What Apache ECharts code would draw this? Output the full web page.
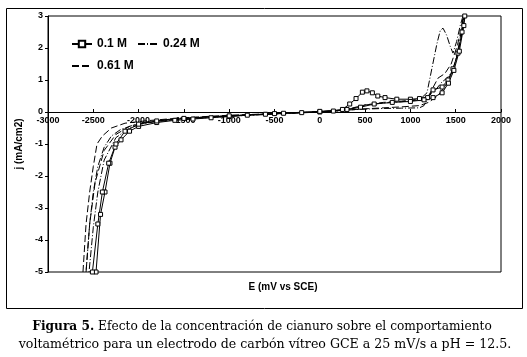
<!DOCTYPE html>
<html>
  <head>
    <meta charset="UTF-8">
    <title>Voltametría cianuro</title>
    <script src="https://cdn.jsdelivr.net/npm/echarts@6/dist/echarts.min.js"></script>
    <style>
      html, body { margin: 0; padding: 0; background: #fff; }
      #chart { width: 527px; height: 357px; }
    </style>
  </head>
  <body>
    <div id="chart"></div>
    <script>
// values (E in mV vs SCE, j in mA/cm2), forward scan then reverse
const e01 = [-2470,-2420,-2371,-2316,-2260,-2194,-2100,-2000,-1800,-1600,-1400,-1200,-1000,-800,-600,-400,-200,0,150,250,330,400,470,520,580,640,720,850,1000,1100,1190,1250,1350,1415,1470,1525,1570,1600,1620,
             1590,1540,1480,1420,1350,1250,1150,1000,800,600,450,300,0,-500,-1000,-1500,-1800,-2000,-2150,-2250,-2330,-2400,-2450,-2510];
const j01 = [-5,-3.2,-2.5,-1.6,-1.1,-0.87,-0.6,-0.45,-0.33,-0.26,-0.22,-0.18,-0.14,-0.1,-0.07,-0.04,-0.02,0,0.03,0.08,0.25,0.42,0.62,0.66,0.6,0.5,0.45,0.4,0.4,0.42,0.45,0.69,0.78,1.0,1.35,1.84,2.5,3,3.4,
             2.7,1.9,1.3,0.9,0.6,0.45,0.38,0.33,0.3,0.25,0.15,0.08,0.02,-0.05,-0.12,-0.2,-0.28,-0.38,-0.6,-1.0,-1.6,-2.5,-3.5,-5];

const e024 = [-2580,-2540,-2500,-2450,-2380,-2300,-2200,-2050,-1800,-1500,-1200,-900,-600,-300,0,200,350,500,700,900,1100,1183,1240,1294,1330,1360,1400,1440,1470,1510,1550,1580,1600,
              1560,1510,1460,1400,1349,1280,1216,1150,1100,900,700,500,300,0,-500,-1000,-1500,-1900,-2100,-2250,-2380,-2450,-2500,-2547];
const j024 = [-5,-3.5,-2.5,-1.7,-1.1,-0.75,-0.55,-0.4,-0.3,-0.22,-0.17,-0.12,-0.08,-0.04,0,0.03,0.12,0.22,0.28,0.32,0.38,0.6,1.4,2.15,2.55,2.62,2.4,2.05,1.84,2.2,2.7,3,3.4,
              2.5,1.7,1.25,1.05,0.94,0.7,0.53,0.2,0.13,0.12,0.11,0.09,0.06,0.01,-0.06,-0.12,-0.2,-0.32,-0.5,-0.8,-1.5,-2.5,-3.6,-5];

const e061 = [-2614,-2580,-2540,-2500,-2459,-2400,-2300,-2150,-1900,-1600,-1300,-1000,-700,-400,0,200,350,500,700,900,1100,1200,1305,1380,1450,1520,1570,1600,
              1560,1500,1440,1380,1300,1200,1100,900,700,500,300,0,-500,-1000,-1500,-1900,-2100,-2250,-2380,-2480,-2540,-2580];
const j061 = [-5,-3.5,-2.5,-1.7,-1.0,-0.75,-0.5,-0.35,-0.27,-0.2,-0.16,-0.12,-0.08,-0.04,0,0.03,0.1,0.22,0.3,0.34,0.4,0.5,1.06,1.2,1.5,2.1,2.7,3.2,
              2.3,1.6,1.1,0.8,0.5,0.3,0.2,0.16,0.13,0.1,0.06,0.01,-0.05,-0.1,-0.18,-0.3,-0.45,-0.7,-1.2,-2.2,-3.5,-5];

const seriesNames = ['0.1 M', '0.24 M', '0.61 M'];
const xTicks = { min: -3000, max: 2000, step: 500 };
const yTicks = { min: -5, max: 3, step: 1 };

const zip = (xs, ys) => xs.map((x, i) => [x, ys[i]]);

var chart = echarts.init(document.getElementById('chart'), null, {renderer: 'canvas'});

const SANS = 'Liberation Sans, Arial, sans-serif';
const SERIF = 'DejaVu Serif';
// the x axis sits on j = 0: move it up from the bottom edge by that many pixels
const PLOT_H = 256;
const zeroOffset = -PLOT_H * (0 - yTicks.min) / (yTicks.max - yTicks.min);

chart.setOption({
  animation: false,
  backgroundColor: '#fff',
  grid: {
    left: 48, top: 16, width: 453, height: PLOT_H,
    show: true, borderColor: '#000', borderWidth: 1
  },
  legend: {
    left: 66, top: 33, width: 140,
    itemWidth: 20, itemHeight: 8, itemGap: 10,
    textStyle: { fontFamily: SANS, fontWeight: 'bold', fontSize: 12, color: '#000' },
    data: [
      { name: seriesNames[0] },
      { name: seriesNames[1], itemStyle: { opacity: 0 } },
      { name: seriesNames[2], itemStyle: { opacity: 0 } }
    ]
  },
  xAxis: {
    type: 'value',
    min: xTicks.min, max: xTicks.max, interval: xTicks.step,
    offset: zeroOffset,
    axisLine: { onZero: false, lineStyle: { color: '#000', width: 1 } },
    axisTick: { inside: true, length: 3, lineStyle: { color: '#000' } },
    axisLabel: { margin: 4, fontFamily: SANS, fontWeight: 'bold', fontSize: 9, color: '#000',
                 formatter: v => String(v) },
    splitLine: { show: false }
  },
  yAxis: {
    type: 'value',
    min: yTicks.min, max: yTicks.max, interval: yTicks.step,
    name: 'j (mA/cm2)', nameLocation: 'middle', nameGap: 15,
    nameTextStyle: { fontFamily: SANS, fontWeight: 'bold', fontSize: 10, color: '#000' },
    axisLine: { onZero: false, lineStyle: { color: '#000', width: 1 } },
    axisTick: { show: true, length: 3, lineStyle: { color: '#000' } },
    axisLabel: { margin: 5, fontFamily: SANS, fontWeight: 'bold', fontSize: 9, color: '#000',
                 formatter: v => String(v) },
    splitLine: { show: false }
  },
  series: [
    {
      name: seriesNames[0], type: 'line', data: zip(e01, j01),
      symbol: 'rect', symbolSize: 4, showSymbol: true,
      itemStyle: { color: '#fff', borderColor: '#000', borderWidth: 1 },
      lineStyle: { color: '#000', width: 1 }, clip: true
    },
    {
      name: seriesNames[1], type: 'line', data: zip(e024, j024),
      symbol: 'none',
      itemStyle: { color: '#000' },
      lineStyle: { color: '#000', width: 1, type: [7, 2, 1, 2] }, clip: true
    },
    {
      name: seriesNames[2], type: 'line', data: zip(e061, j061),
      symbol: 'none',
      itemStyle: { color: '#000' },
      lineStyle: { color: '#000', width: 1, type: [7, 3] }, clip: true
    }
  ],
  graphic: [
    { type: 'rect', shape: { x: 6.5, y: 8.5, width: 516, height: 300 },
      style: { fill: null, stroke: '#000', lineWidth: 1 }, z: -1 },
    { type: 'text', x: 283, y: 287,
      style: { text: 'E (mV vs SCE)', fontFamily: SANS, fontWeight: 'bold', fontSize: 10,
               fill: '#000', align: 'center', verticalAlign: 'middle' } },
    { type: 'text', x: 262, y: 327,
      style: {
        text: '{b|Figura 5.} Efecto de la concentración de cianuro sobre el comportamiento',
        rich: { b: { fontWeight: 'bold', fontFamily: SERIF, fontSize: 12.2 } },
        fontFamily: SERIF, fontSize: 12.2, fill: '#000', align: 'center', verticalAlign: 'middle' } },
    { type: 'text', x: 265, y: 345,
      style: {
        text: 'voltamétrico para un electrodo de carbón vítreo GCE a 25 mV/s a pH = 12.5.',
        fontFamily: SERIF, fontSize: 12.6, fill: '#000', align: 'center', verticalAlign: 'middle' } }
  ]
});
    </script>
  </body>
</html>
